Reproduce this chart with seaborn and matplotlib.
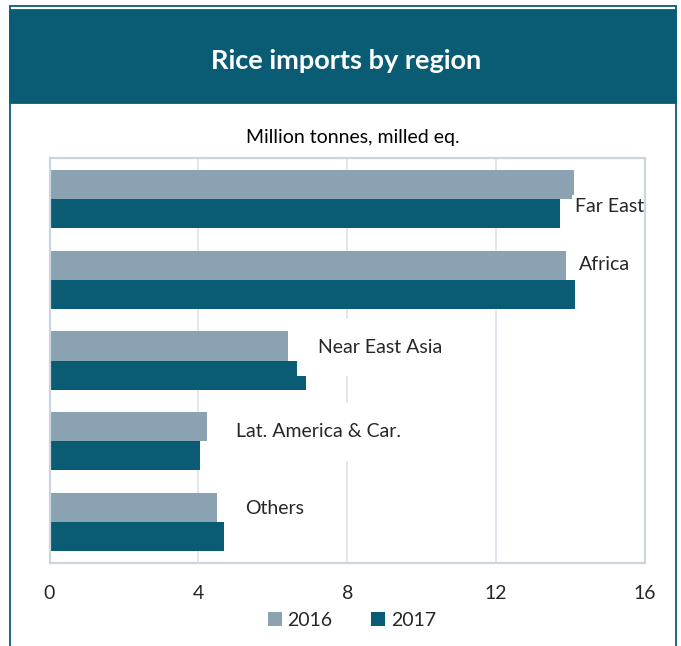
import matplotlib
matplotlib.use("Agg")
import matplotlib.pyplot as plt
from matplotlib.patches import Rectangle
import pandas as pd
import seaborn as sns

# données (millions de tonnes, équivalent usiné)
regions = ["Far East", "Africa", "Near East Asia", "Lat. America & Car.", "Others"]
years = ["2016", "2017"]
imports_2016 = [14.10, 13.88, 6.42, 4.24, 4.49]
imports_2017 = [13.72, 14.13, 6.88, 4.04, 4.68]
xticks = [0, 4, 8, 12, 16]

# positions des étiquettes (x en valeur, y en rang de catégorie)
label_x = [14.12, 14.23, 7.21, 5.01, 5.25]
label_y = [0.10, 0.81, 1.84, 2.88, 3.83]
label_pad = [0.15, 0.15, 1.05, 1.05, 0.6]

teal = "#0A5C75"
grey = "#8BA2B2"

df = pd.DataFrame({
    "Region": regions * 2,
    "Year": [years[0]] * len(regions) + [years[1]] * len(regions),
    "Value": imports_2016 + imports_2017,
})

sns.set_style("white")
plt.rcParams["font.family"] = ["Lato", "DejaVu Sans"]

W, H = 681, 646
fig = plt.figure(figsize=(W / 100, H / 100), dpi=100)

# cadre et bandeau du titre
fig.patches.append(Rectangle((10 / W, -0.01), 666 / W, 1.0, transform=fig.transFigure,
                             facecolor="none", edgecolor=teal, lw=1.3))
fig.patches.append(Rectangle((10 / W, 1 - 103 / H), 666 / W, 93 / H, transform=fig.transFigure,
                             facecolor=teal, edgecolor=teal, lw=1.3))
fig.text(346 / W, 1 - 61 / H, "Rice imports by region", color="white", fontsize=19.5,
         fontweight="bold", ha="center", va="center")
fig.text(353 / W, 1 - 138 / H, "Million tonnes, milled eq.", color="black", fontsize=14,
         ha="center", va="center")

ax = fig.add_axes([49.5 / W, (H - 562.7) / H, 595.5 / W, 404.4 / H])
sns.barplot(data=df, y="Region", x="Value", hue="Year", order=regions, hue_order=years,
            palette=[grey, teal], width=0.72, orient="h", ax=ax, saturation=1,
            edgecolor="none", zorder=2)

ax.set_xlim(0, 16)
ax.set_ylim(4.5, -0.5)
ax.set_xticks(xticks)
ax.set_xticklabels([str(t) for t in xticks], fontsize=14)
ax.tick_params(axis="x", length=5, width=1, color="#CAD5DE", pad=11)
ax.tick_params(axis="y", left=False, labelleft=False)
ax.set_xlabel("")
ax.set_ylabel("")
ax.xaxis.grid(True, color="#DEE6EC", lw=1.3, zorder=0)
ax.set_axisbelow(True)
for s in ax.spines.values():
    s.set_visible(True)
    s.set_color("#CAD5DE")
    s.set_linewidth(1.6)

# étiquettes sous les bords du cadre, au-dessus des barres
for name, x, y, p in zip(regions, label_x, label_y, label_pad):
    ax.text(x, y, name, fontsize=14, ha="left", va="center", zorder=2.2,
            bbox=dict(boxstyle=f"square,pad={p}", facecolor="white", edgecolor="none"))

handles, labels = ax.get_legend_handles_labels()
ax.legend(handles, labels, loc="center", bbox_to_anchor=(352 / W, 1 - 620 / H),
          bbox_transform=fig.transFigure, ncol=2, frameon=False, fontsize=14,
          handlelength=0.7, handleheight=0.7, handletextpad=0.3, columnspacing=2.0)

fig.savefig("out.png", dpi=100)
